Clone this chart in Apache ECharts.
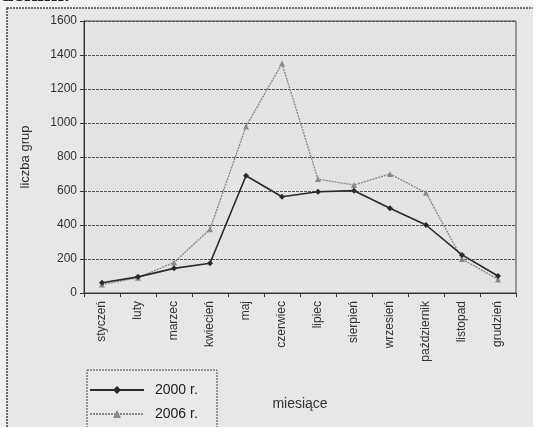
<!DOCTYPE html>
<html>
<head>
<meta charset="utf-8">
<script src="https://cdn.jsdelivr.net/npm/echarts@6/dist/echarts.min.js"></script>
<style>
html,body{margin:0;padding:0;background:#f2f2f0;}
#c{width:533px;height:427px;}
</style>
</head>
<body>
<div id="c"></div>
<script>
const months = ['styczeń','luty','marzec','kwiecień','maj','czerwiec','lipiec','sierpień','wrzesień','październik','listopad','grudzień'];
const s2000 = [60, 95, 145, 175, 690, 566, 596, 602, 498, 400, 224, 100];
const s2006 = [50, 90, 180, 375, 980, 1350, 670, 635, 700, 590, 200, 80];
const yTicks = [0, 200, 400, 600, 800, 1000, 1200, 1400, 1600];

const font = 'Liberation Sans, Arial, sans-serif';
const legendCommon = {
  left:89, itemWidth:54, itemHeight:10, padding:0,
  textStyle:{fontFamily:font, fontSize:14, color:'#222', padding:[0,0,0,6]}
};
const chart = echarts.init(document.getElementById('c'), null, {renderer:'canvas'});
chart.setOption({
  backgroundColor: '#f2f2f0',
  animation: false,
  graphic: [
    {type:'rect', shape:{x:7, y:8, width:540, height:430}, style:{fill:'#e7e7e5', stroke:'#444', lineWidth:1.5, lineDash:[2,1]}, z:-10},
    {type:'text', left:0, top:-17, style:{text:'dekim.', font:'bold 24px Liberation Serif, serif', fill:'#222'}},
    {type:'rect', shape:{x:87, y:370, width:130, height:70}, style:{fill:'#e9e9e7', stroke:'#444', lineWidth:1, lineDash:[2,1]}, z:0}
  ],
  grid: {left:84, right:17, top:21, bottom:134, show:true, backgroundColor:'#e4e4e2', borderColor:'#444', borderWidth:1},
  legend: [
    Object.assign({top:383, data:['2000 r.']}, legendCommon),
    Object.assign({top:407, data:['2006 r.']}, legendCommon)
  ],
  xAxis: {
    type:'category', data: months, boundaryGap:true,
    name:'miesiące', nameLocation:'middle', nameGap:104,
    nameTextStyle:{fontFamily:font, fontSize:14, color:'#333'},
    axisLine:{lineStyle:{color:'#333', width:1}},
    axisTick:{show:true, length:4, lineStyle:{color:'#333'}},
    axisLabel:{rotate:90, interval:0, fontFamily:font, fontSize:12, color:'#333', margin:8}
  },
  yAxis: {
    type:'value', min:0, max:1600, interval:200,
    name:'liczba grup', nameLocation:'middle', nameGap:52, nameRotate:90,
    nameTextStyle:{fontFamily:font, fontSize:13, color:'#333'},
    axisLine:{show:true, lineStyle:{color:'#333'}},
    axisTick:{show:true, length:4, lineStyle:{color:'#333'}},
    axisLabel:{fontFamily:font, fontSize:12, color:'#333', margin:7,
      formatter: v => yTicks.includes(v) ? String(v) : ''},
    splitLine:{show:true, lineStyle:{color:'#555', width:1, type:[3,1]}}
  },
  series: [
    {name:'2000 r.', type:'line', data:s2000, symbol:'diamond', symbolSize:6,
     lineStyle:{color:'#2a2a2a', width:1.6}, itemStyle:{color:'#2a2a2a'}, z:3},
    {name:'2006 r.', type:'line', data:s2006, symbol:'triangle', symbolSize:6,
     lineStyle:{color:'#8a8a8a', width:1.4, type:[2,1]}, itemStyle:{color:'#8a8a8a'}, z:2}
  ]
});
</script>
</body>
</html>
